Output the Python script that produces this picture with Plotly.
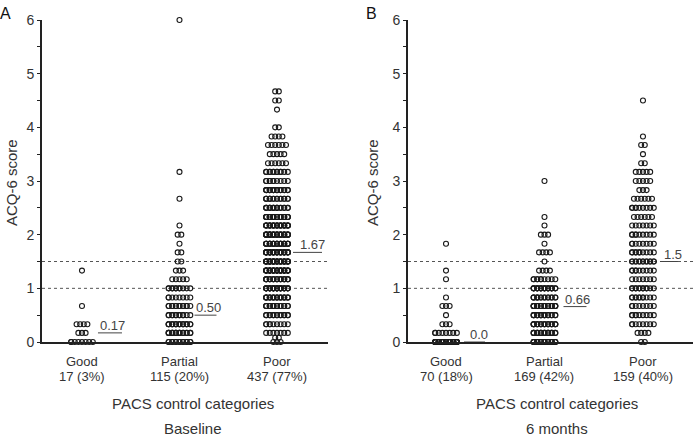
import plotly.graph_objects as go

# ---------------- data ----------------
categories = ["Good", "Partial", "Poor"]
baseline_n_labels = ["17 (3%)", "115 (20%)", "437 (77%)"]
month6_n_labels = ["70 (18%)", "169 (42%)", "159 (40%)"]

# ACQ-6 score levels and number of patients at each level
base_good_scores = [0, 0.17, 0.33, 0.67, 1.33]
base_good_counts = [8, 3, 4, 1, 1]

base_partial_scores = [0, 0.17, 0.33, 0.5, 0.67, 0.83, 1.0, 1.17, 1.33, 1.5, 1.67, 1.83, 2.0, 2.17, 2.67, 3.17, 6.0]
base_partial_counts = [14, 18, 20, 12, 13, 8, 11, 5, 3, 2, 2, 1, 2, 1, 1, 1, 1]

base_poor_scores = [0, 0.08, 0.17, 0.33, 0.5, 0.67, 0.83, 1.0, 1.17, 1.33, 1.5, 1.67, 1.83, 2.0, 2.17,
                    2.33, 2.5, 2.67, 2.83, 3.0, 3.17, 3.33, 3.5, 3.67, 3.83, 4.0, 4.33, 4.5, 4.67]
base_poor_counts = [3, 2, 7, 9, 14, 18, 22, 26, 22, 34, 38, 30, 28, 30, 28,
                    24, 18, 16, 18, 10, 12, 6, 5, 6, 4, 2, 1, 2, 2]

m6_good_scores = [0, 0.17, 0.33, 0.5, 0.67, 0.83, 1.17, 1.33, 1.83]
m6_good_counts = [51, 8, 3, 1, 3, 1, 1, 1, 1]

m6_partial_scores = [0, 0.17, 0.33, 0.5, 0.67, 0.83, 1.0, 1.17, 1.33, 1.5, 1.67, 1.83, 2.0, 2.17, 2.33, 3.0]
m6_partial_counts = [24, 20, 22, 18, 23, 16, 20, 10, 4, 1, 4, 1, 3, 1, 1, 1]

m6_poor_scores = [0, 0.17, 0.33, 0.5, 0.67, 0.83, 1.0, 1.17, 1.33, 1.5, 1.67, 1.83, 2.0, 2.17,
                  2.33, 2.5, 2.67, 2.83, 3.0, 3.17, 3.33, 3.5, 3.67, 3.83, 4.5]
m6_poor_counts = [2, 4, 8, 9, 8, 11, 12, 7, 9, 14, 10, 8, 9, 7,
                  6, 9, 6, 3, 5, 5, 2, 1, 2, 1, 1]

baseline_medians = [0.17, 0.50, 1.67]
baseline_median_text = ["0.17", "0.50", "1.67"]
month6_medians = [0.0, 0.66, 1.5]
month6_median_text = ["0.0", "0.66", "1.5"]

thresholds = [1.0, 1.5]

# ---------------- styling / layout helpers ----------------
FONT = "Liberation Sans, Arial, sans-serif"
W = 700
H = 437


def px(sx):  # screen x -> paper fraction
    return sx / W


def py(sy):  # screen y -> paper fraction
    return 1 - sy / H


ydom = [py(342), py(20)]

panels = [
    dict(xa="x", ya="y", dom=[px(42), px(328)], rng=[-0.41, 2.523], ppu=97.5,
         groups=[(base_good_scores, base_good_counts), (base_partial_scores, base_partial_counts),
                 (base_poor_scores, base_poor_counts)],
         nlab=baseline_n_labels, med=baseline_medians, medtxt=baseline_median_text,
         # (underline start px, underline end px, text start px) relative to category centre
         medpos=[(16, 40, 16), (15, 37, 15), (16, 45, 21)],
         letter="A", letter_x=5, ytitle_x=11, sub="Baseline", subx=193),
    dict(xa="x2", ya="y2", dom=[px(408), px(693)], rng=[-0.386, 2.508], ppu=98.5,
         groups=[(m6_good_scores, m6_good_counts), (m6_partial_scores, m6_partial_counts),
                 (m6_poor_scores, m6_poor_counts)],
         nlab=month6_n_labels, med=month6_medians, medtxt=month6_median_text,
         medpos=[(18, 39, 22), (19, 42, 19), (17, 35, 19)],
         letter="B", letter_x=371, ytitle_x=372, sub="6 months", subx=557),
]

STEP_PX = 3.6     # horizontal spacing between dot slots
MAX_SLOTS = 7     # dots beyond this share slots (overlap exactly)

fig = go.Figure()
annotations = []
shapes = []

for p in panels:
    ppu = p["ppu"]
    for ci, (scores, counts) in enumerate(p["groups"]):
        xs, ys = [], []
        for s, n in zip(scores, counts):
            slots = min(n, MAX_SLOTS)
            for i in range(n):
                k = i % slots
                xs.append(ci + (k - (slots - 1) / 2) * STEP_PX / ppu)
                ys.append(s)
        fig.add_trace(go.Scatter(
            x=xs, y=ys, mode="markers", xaxis=p["xa"], yaxis=p["ya"],
            marker=dict(symbol="circle-open", size=5, color="#1a1a1a", line=dict(width=1.1, color="#1a1a1a")),
            cliponaxis=False, hoverinfo="skip", showlegend=False))

    # threshold dotted lines
    for t in thresholds:
        shapes.append(dict(type="line", xref=p["xa"] + " domain", yref=p["ya"], x0=0, x1=1, y0=t, y1=t,
                           line=dict(color="#555", width=1, dash="dot"), layer="below"))

    # medians
    for ci, (m, txt) in enumerate(zip(p["med"], p["medtxt"])):
        u0, u1, t0 = p["medpos"][ci]
        shapes.append(dict(type="line", xref=p["xa"], yref=p["ya"],
                           x0=ci + u0 / ppu, x1=ci + u1 / ppu, y0=m, y1=m,
                           line=dict(color="#444", width=1)))
        annotations.append(dict(xref=p["xa"], yref=p["ya"], x=ci + t0 / ppu, y=m, text=txt,
                                showarrow=False, xanchor="left", yanchor="bottom", yshift=-2,
                                font=dict(family=FONT, size=13, color="#444")))

    # category labels
    for ci, (c, nl) in enumerate(zip(categories, p["nlab"])):
        annotations.append(dict(xref=p["xa"], yref="paper", x=ci, y=py(361), text=c, showarrow=False,
                                xanchor="center", yanchor="middle",
                                font=dict(family=FONT, size=13, color="#333")))
        annotations.append(dict(xref=p["xa"], yref="paper", x=ci, y=py(376), text=nl, showarrow=False,
                                xanchor="center", yanchor="middle",
                                font=dict(family=FONT, size=13, color="#333")))

    annotations.append(dict(xref="paper", yref="paper", x=px(p["subx"]), y=py(403),
                            text="PACS control categories", showarrow=False, xanchor="center", yanchor="middle",
                            font=dict(family=FONT, size=15, color="#333")))
    annotations.append(dict(xref="paper", yref="paper", x=px(p["subx"]), y=py(428),
                            text=p["sub"], showarrow=False, xanchor="center", yanchor="middle",
                            font=dict(family=FONT, size=15, color="#333")))
    annotations.append(dict(xref="paper", yref="paper", x=px(p["letter_x"]), y=py(13),
                            text=p["letter"], showarrow=False, xanchor="center", yanchor="middle",
                            font=dict(family=FONT, size=16, color="#111")))
    annotations.append(dict(xref="paper", yref="paper", x=px(p["ytitle_x"]), y=py(183),
                            text="ACQ-6 score", showarrow=False, textangle=-90,
                            xanchor="center", yanchor="middle",
                            font=dict(family=FONT, size=15, color="#333")))

axis_common_x = dict(showgrid=False, zeroline=False, showticklabels=False, ticks="",
                     showline=True, linewidth=2, linecolor="#222", fixedrange=True, automargin=False)
axis_common_y = dict(range=[0, 6], tickvals=[0, 1, 2, 3, 4, 5, 6], ticks="outside", ticklen=3,
                     tickwidth=1, tickcolor="#222",
                     minor=dict(dtick=0.5, ticks="outside", ticklen=3, tickwidth=1, tickcolor="#222"),
                     showgrid=False, zeroline=False, showline=True, linewidth=2, linecolor="#222",
                     tickfont=dict(family=FONT, size=14, color="#333"), domain=ydom, automargin=False,
                     fixedrange=True)

fig.update_layout(
    width=W, height=H, margin=dict(l=0, r=0, t=0, b=0, autoexpand=False),
    paper_bgcolor="white", plot_bgcolor="white", showlegend=False,
    xaxis=dict(domain=panels[0]["dom"], range=panels[0]["rng"], anchor="y", **axis_common_x),
    xaxis2=dict(domain=panels[1]["dom"], range=panels[1]["rng"], anchor="y2", **axis_common_x),
    yaxis=dict(anchor="x", **axis_common_y),
    yaxis2=dict(anchor="x2", **axis_common_y),
    annotations=annotations, shapes=shapes,
)

# remove the default page margin so the 700x437 figure sits exactly in the window
fig.write_html("out.html", config={"displayModeBar": False},
               post_script="document.body.style.margin='0px';")
